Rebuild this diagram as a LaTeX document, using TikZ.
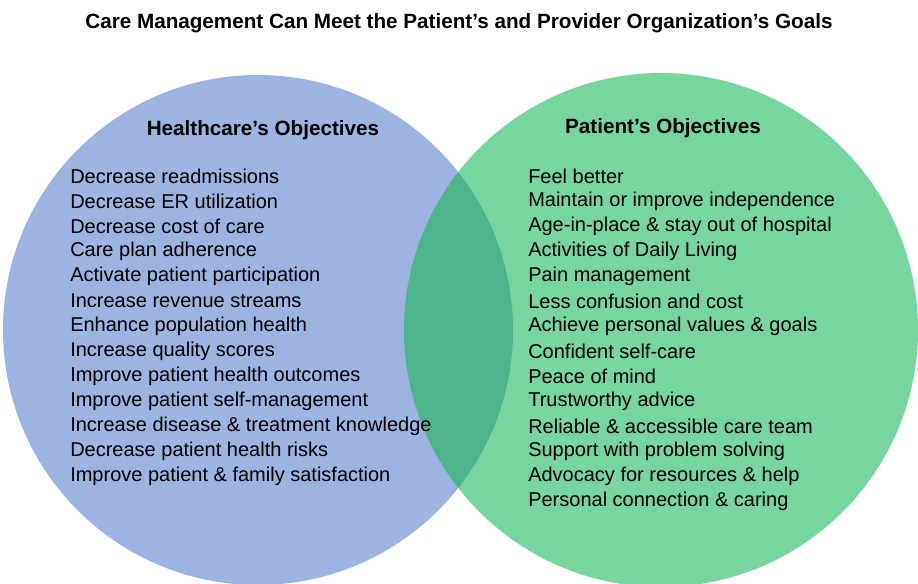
\documentclass[tikz,border=0pt]{standalone}
\usepackage{fontspec}
\setmainfont{Liberation Sans}
\definecolor{cblue}{HTML}{9DB3E1}
\definecolor{cgreen}{HTML}{79D5A0}
\definecolor{cmix}{HTML}{4DB48E}
\begin{document}
\begin{tikzpicture}[x=0.75pt,y=-0.75pt,
  item/.style={anchor=west,inner sep=0pt,font=\fontsize{15}{18}\selectfont},
  head/.style={inner sep=0pt,font=\fontsize{15.5}{18}\selectfont\bfseries}]
\useasboundingbox (0,0) rectangle (918,584);
\fill[cblue] (258,330) circle (255);
\fill[cgreen] (661,330) circle (257);
\begin{scope}
\clip (258,330) circle (255);
\fill[cmix] (661,330) circle (257);
\end{scope}
\node[head] (title) at (459,23) {Care Management Can Meet the Patient’s and Provider Organization’s Goals};
\node[head] (hl) at (263,130) {Healthcare’s Objectives};
\node[head] (hr) at (663,128) {Patient’s Objectives};
\foreach \t [count=\i] in {Decrease readmissions,Decrease ER utilization,Decrease cost of care,Care plan adherence,Activate patient participation,Increase revenue streams,Enhance population health,Increase quality scores,Improve patient health outcomes,Improve patient self-management,Increase disease \& treatment knowledge,Decrease patient health risks,Improve patient \& family satisfaction}
  \node[item] (l\i) at (70,{151+25*\i}) {\t};
\foreach \t [count=\i] in {Feel better,Maintain or improve independence,Age-in-place \& stay out of hospital,Activities of Daily Living,Pain management,Less confusion and cost,Achieve personal values \& goals,Confident self-care,Peace of mind,Trustworthy advice,Reliable \& accessible care team,Support with problem solving,Advocacy for resources \& help,Personal connection \& caring}
  \node[item] (r\i) at (528,{151+25*\i}) {\t};
\end{tikzpicture}
\end{document}
